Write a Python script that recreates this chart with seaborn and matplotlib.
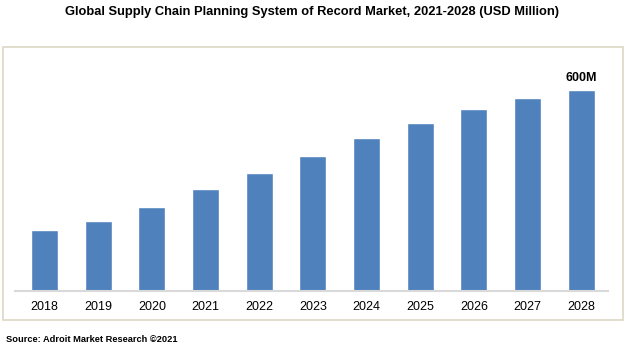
import matplotlib
matplotlib.use("Agg")
import matplotlib.pyplot as plt
import seaborn as sns
import pandas as pd
from matplotlib.patches import Rectangle

years = ["2018", "2019", "2020", "2021", "2022", "2023", "2024", "2025", "2026", "2027", "2028"]
values = [182, 209, 251, 304, 352, 403, 457, 501, 543, 576, 600]
last_label = "600M"
title = "Global Supply Chain Planning System of Record Market, 2021-2028 (USD Million)"
source = "Source: Adroit Market Research \u00a92021"

sns.set_theme(style="white")
plt.rcParams["font.family"] = ["Liberation Sans", "DejaVu Sans"]

df = pd.DataFrame({"year": years, "value": values})

fig = plt.figure(figsize=(6.27, 3.49), dpi=100)
W, H = 627, 349
ax = fig.add_axes([15 / W, 1 - 291 / H, (608 - 15) / W, (291 - 60) / H])

sns.barplot(data=df, x="year", y="value", color="#4F81BD", saturation=1, width=0.5, ax=ax)
ax.set_ylim(0, 690)
ax.set_xlim(-0.55, 10.5)
ax.set_xlabel("")
ax.set_ylabel("")
ax.set_yticks([])
for s in ["top", "right", "left"]:
    ax.spines[s].set_visible(False)
ax.spines["bottom"].set_color("#D9D9D9")
ax.spines["bottom"].set_linewidth(1.5)
ax.tick_params(axis="x", length=0, pad=7.5, labelsize=9, labelcolor="#000000")

ax.text(10, values[-1] + 18, last_label, ha="center", va="bottom", fontsize=9,
        fontweight="bold", color="#000000")

# outer frame
fig.patches.append(Rectangle((3 / W, 1 - 320 / H), (623 - 3) / W, (320 - 47) / H,
                             transform=fig.transFigure, fill=False,
                             edgecolor="#DDD8C4", linewidth=1.2))

fig.text(312 / W, 1 - 12 / H, title, ha="center", va="center", fontsize=9.3,
         fontweight="bold", color="#000000")
fig.text(6 / W, 1 - 339 / H, source, ha="left", va="center", fontsize=6.7,
         fontweight="bold", color="#000000")

fig.savefig("out.png", dpi=100)
